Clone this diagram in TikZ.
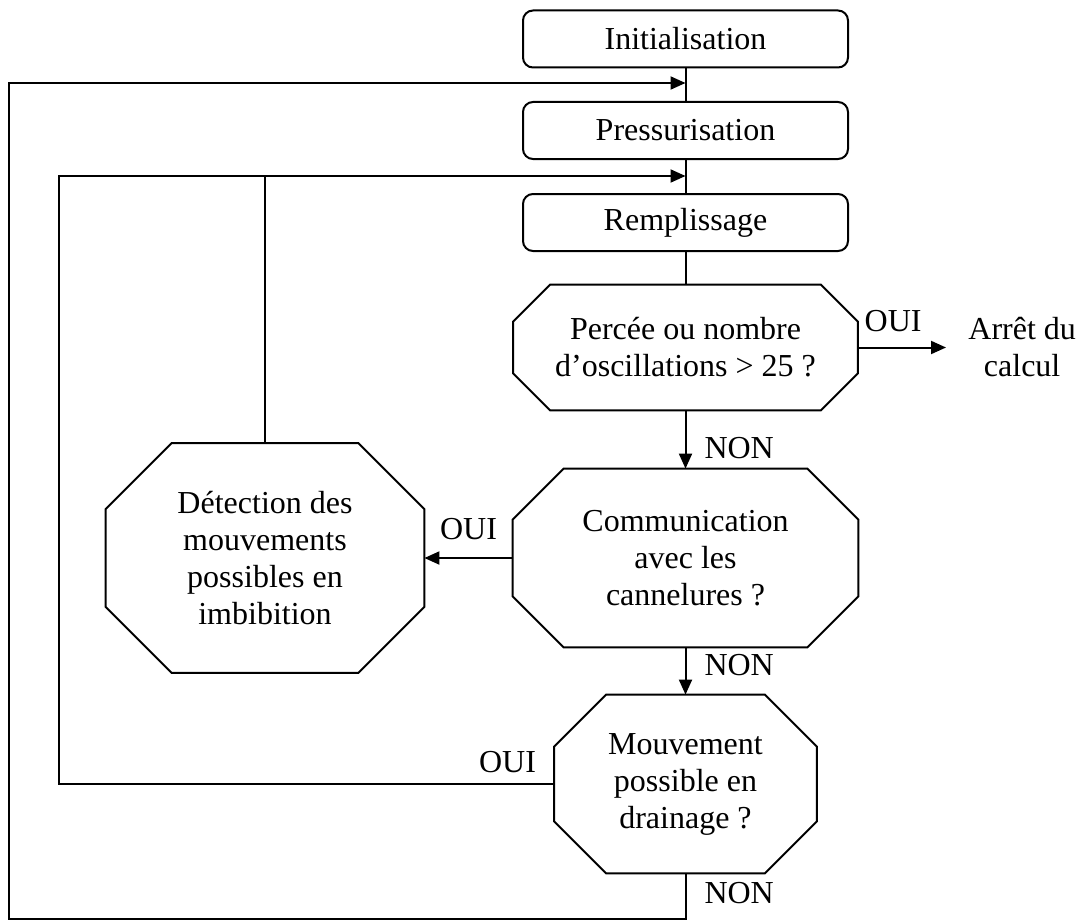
\documentclass[tikz,border=0pt]{standalone}
\usepackage{fontspec}
\setmainfont{Liberation Serif}
\usepackage{tikz}
\usetikzlibrary{arrows.meta, positioning, calc}

\begin{document}
\begin{tikzpicture}[
    x=0.5pt, y=-0.5pt,
    font=\fontsize{16}{18.5}\selectfont,
    etape/.style={rectangle, draw, line width=1pt, rounded corners=5pt, minimum width=162.5pt, minimum height=28.5pt, align=center},
    test/.style={rectangle, inner sep=0pt, align=center},
    lbl/.style={inner sep=0pt},
    trait/.style={line width=1pt},
    fleche/.style={-{Triangle[length=7.5pt, width=6.5pt]}, line width=1pt}
]
\useasboundingbox (0,0) rectangle (1080,920);

\node[etape] (init) at (685.5,39) {Initialisation};
\node[etape] (press) at (685.5,130.5) {Pressurisation};
\node[etape] (rempl) at (685.5,222.5) {Remplissage};

\node[test, minimum width=172pt, minimum height=62.5pt] (perce) at (685.5,347.5) {Percée ou nombre\\d’oscillations > 25 ?};
\node[test, minimum width=172.5pt, minimum height=89pt] (comm) at (685.5,558) {Communication\\avec les\\cannelures ?};
\node[test, minimum width=131pt, minimum height=89pt] (mouv) at (685.5,784) {Mouvement\\possible en\\drainage ?};
\node[test, minimum width=159pt, minimum height=114.5pt] (detect) at (265,558) {Détection des\\mouvements\\possibles en\\imbibition};
\node[anchor=west, inner xsep=11pt, inner ysep=0pt, align=center] (arret) at (946,347.5) {Arrêt du\\calcul};

\foreach \n/\c in {perce/18.5pt, comm/25.5pt, mouv/26pt, detect/33pt}
    \draw[trait] ([xshift=\c]\n.north west) -- ([xshift=-\c]\n.north east) -- ([yshift=-\c]\n.north east)
        -- ([yshift=\c]\n.south east) -- ([xshift=-\c]\n.south east) -- ([xshift=\c]\n.south west)
        -- ([yshift=\c]\n.south west) -- ([yshift=-\c]\n.north west) -- cycle;

\coordinate (j1) at (685.5,83);
\coordinate (j2) at (685.5,176);
\coordinate (gauche1) at (9,919);
\coordinate (gauche2) at (59,176);

\draw[trait] (init) -- (press);
\draw[trait] (press) -- (rempl);
\draw[trait] (rempl) -- (perce);
\draw[fleche] (perce) -- node[lbl, above=7.5pt, pos=0.4] {OUI} (arret);
\draw[fleche] (perce) -- node[lbl, right=9pt, pos=0.64] {NON} (comm);
\draw[fleche] (comm) -- node[lbl, above=8.5pt] {OUI} (detect);
\draw[fleche] (comm) -- node[lbl, right=9pt, pos=0.375] {NON} (mouv);
\draw[trait] (detect) -- (detect |- j2);
\draw[fleche] (mouv.west) -| node[lbl, above=5pt, pos=0.047] {OUI} (gauche2) -- (j2);
\draw[fleche] (mouv) |- node[lbl, right=9pt, pos=0.21] {NON} (gauche1) |- (j1);

\end{tikzpicture}
\end{document}
